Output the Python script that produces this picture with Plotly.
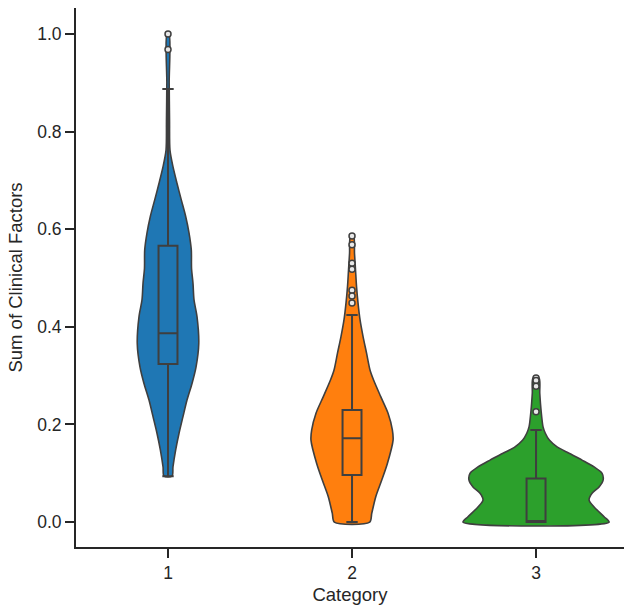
import plotly.graph_objects as go

# ---- data ----
categories = [1, 2, 3]
colors = ["#1f77b4", "#ff7f0e", "#2ca02c"]

# violin outlines: value levels and relative density (1 = widest violin)
cat1_levels = [0.094, 0.113, 0.148, 0.182, 0.216, 0.25, 0.284, 0.318, 0.366, 0.421, 0.455,
               0.489, 0.52, 0.557, 0.592, 0.626, 0.66, 0.694, 0.728, 0.762, 0.82, 0.9, 1.0]
cat1_density = [0.055, 0.068, 0.105, 0.151, 0.205, 0.26, 0.329, 0.384, 0.421, 0.397, 0.356,
                0.342, 0.322, 0.319, 0.288, 0.242, 0.182, 0.123, 0.068, 0.027, 0.021, 0.016, 0.014]

cat2_levels = [0.0, 0.018, 0.052, 0.086, 0.12, 0.168, 0.189, 0.223, 0.257, 0.291, 0.311,
               0.346, 0.38, 0.414, 0.449, 0.482, 0.516, 0.55, 0.586]
cat2_density = [0.242, 0.27, 0.325, 0.407, 0.484, 0.562, 0.552, 0.493, 0.393, 0.295, 0.247,
                0.199, 0.151, 0.11, 0.082, 0.062, 0.048, 0.034, 0.021]

cat3_levels = [0.0, 0.011, 0.031, 0.045, 0.059, 0.072, 0.086, 0.1, 0.113, 0.127, 0.141,
               0.154, 0.168, 0.182, 0.195, 0.23, 0.264, 0.295]
cat3_density = [1.0, 0.932, 0.795, 0.726, 0.767, 0.863, 0.918, 0.904, 0.795, 0.63, 0.452,
                0.288, 0.182, 0.127, 0.096, 0.068, 0.051, 0.041]

# box statistics
lower_whisker = [0.094, 0.0, 0.0]
q1 = [0.324, 0.0963, 0.0]
median = [0.387, 0.1715, 0.0]
q3 = [0.566, 0.2295, 0.0895]
upper_whisker = [0.887, 0.424, 0.1885]

# outliers
outliers = [
    [1.0, 0.968],
    [0.586, 0.568, 0.530, 0.518, 0.475, 0.463, 0.449],
    [0.295, 0.29, 0.278, 0.226],
]

y_ticks = [0.0, 0.2, 0.4, 0.6, 0.8, 1.0]
y_ticktext = ["0.0", "0.2", "0.4", "0.6", "0.8", "1.0"]

levels = [cat1_levels, cat2_levels, cat3_levels]
densities = [cat1_density, cat2_density, cat3_density]

# ---- styling ----
MAX_HALF = 0.397     # half width (category units) of density 1.0
BOX_WIDTH = 0.103
EDGE = "#3f3f3f"
FONT = "Liberation Sans, Arial, sans-serif"
TXT = "#262626"
XR = [0.5, 3.478]
YR = [-0.051, 1.053]
TICK_SIZE = 17.5
TITLE_SIZE = 18.5

fig = go.Figure()

# violins on the base axes
for c, col, lv, dn in zip(categories, colors, levels, densities):
    xs_left = [c - d * MAX_HALF for d in dn]
    xs_right = [c + d * MAX_HALF for d in dn]
    xs = xs_left + xs_right[::-1] + [xs_left[0]]
    ys = lv + lv[::-1] + [lv[0]]
    fig.add_trace(go.Scatter(
        x=xs, y=ys, mode="lines", fill="toself", fillcolor=col,
        line=dict(color=EDGE, width=1.6, shape="spline", smoothing=0.8),
        hoverinfo="skip", showlegend=False, xaxis="x", yaxis="y",
    ))

# boxes on overlaying axes so they are drawn above the violins
for i, c in enumerate(categories):
    fig.add_trace(go.Box(
        x=[c], q1=[q1[i]], median=[median[i]], q3=[q3[i]],
        lowerfence=[lower_whisker[i]], upperfence=[upper_whisker[i]],
        width=BOX_WIDTH, whiskerwidth=0.6,
        fillcolor="rgba(0,0,0,0)", line=dict(color=EDGE, width=2),
        boxpoints=False, showlegend=False, xaxis="x2", yaxis="y2",
    ))

for c, pts in zip(categories, outliers):
    fig.add_trace(go.Scatter(
        x=[c] * len(pts), y=pts, mode="markers",
        marker=dict(size=6, color="#e8e8e8", line=dict(color=EDGE, width=1.5)),
        showlegend=False, xaxis="x2", yaxis="y2",
    ))

fig.update_layout(
    width=624, height=606,
    margin=dict(l=76, r=0, t=8, b=59),
    paper_bgcolor="white", plot_bgcolor="white",
    font=dict(family=FONT, size=TICK_SIZE, color=TXT),
    boxmode="overlay",
    xaxis=dict(
        range=XR, tickvals=categories, ticktext=[str(c) for c in categories],
        showline=True, linecolor=TXT, linewidth=2, showgrid=False, zeroline=False,
        ticks="outside", ticklen=9, tickwidth=2, tickcolor=TXT, automargin=False,
        tickfont=dict(size=TICK_SIZE, color=TXT),
        title=dict(text="Category", font=dict(size=TITLE_SIZE, color=TXT), standoff=6),
    ),
    yaxis=dict(
        range=YR, tickvals=y_ticks, ticktext=y_ticktext,
        showline=True, linecolor=TXT, linewidth=2, showgrid=False, zeroline=False,
        ticks="outside", ticklen=9, tickwidth=2, tickcolor=TXT, automargin=False,
        tickfont=dict(size=TICK_SIZE, color=TXT),
        title=dict(text="Sum of Clinical Factors", font=dict(size=TITLE_SIZE, color=TXT), standoff=10),
    ),
    xaxis2=dict(range=XR, overlaying="x", visible=False, showgrid=False, zeroline=False),
    yaxis2=dict(range=YR, overlaying="y", visible=False, showgrid=False, zeroline=False),
)

fig.write_html("out.html", config={"displayModeBar": False},
               post_script="document.body.style.margin='0';document.body.style.overflow='hidden';")
